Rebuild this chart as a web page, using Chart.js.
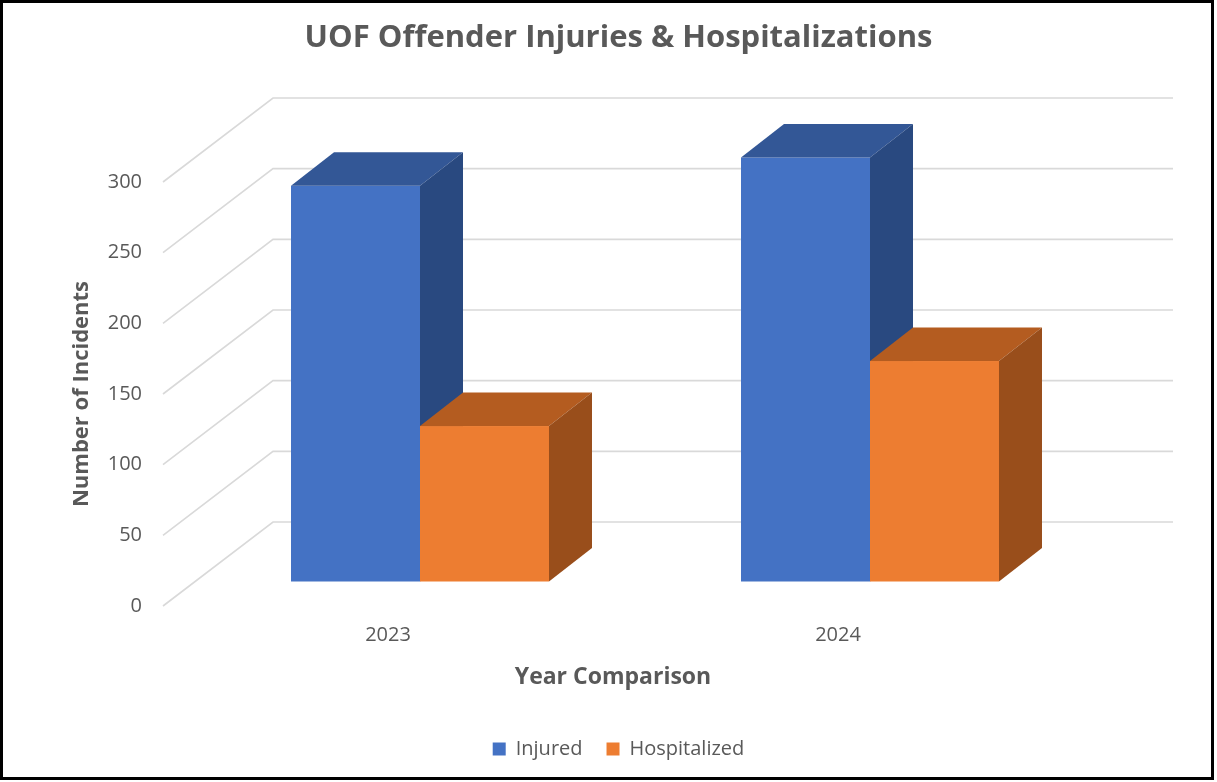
<!DOCTYPE html>
<html>
<head>
<meta charset="utf-8">
<title>UOF Offender Injuries &amp; Hospitalizations</title>
<script src="https://cdn.jsdelivr.net/npm/chart.js@4.4.1/dist/chart.umd.min.js"></script>
<style>
  html, body { margin: 0; padding: 0; background: #fff; }
  #wrap { width: 1217px; height: 782px; }
</style>
</head>
<body>
<div id="wrap"><canvas id="uofChart" width="1217" height="782"></canvas></div>
<script>
  // data
  const years = ["2023", "2024"];
  const injured = [280, 300];
  const hospitalized = [110, 156];
  const yTicks = [0, 50, 100, 150, 200, 250, 300];

  // colours: front / top / side faces
  const blue = { front: "#4472C4", top: "#335796", side: "#294980" };
  const orange = { front: "#ED7D31", top: "#B45C20", side: "#994E1B" };
  const faces = [blue, orange];

  // fake 3d depth (pixels)
  const floorDX = 110, floorDY = -84;     // front edge of floor -> back wall
  const barOffX = 32, barOffY = -24.5;    // front edge of floor -> front of bars
  const barDX = 43, barDY = -33.5;        // bar depth

  const gray = "#595959";
  const font = "'Open Sans', 'Noto Sans', sans-serif";

  const bars3d = {
    id: "bars3d",
    beforeDatasetsDraw(chart) {
      // back wall + left side wall grid lines
      const ctx = chart.ctx;
      const area = chart.chartArea;
      const yScale = chart.scales.y;
      ctx.save();
      ctx.strokeStyle = "#d9d9d9";
      ctx.lineWidth = 1.6;
      yScale.ticks.forEach((t) => {
        const yf = yScale.getPixelForValue(t.value);
        const yb = yf + floorDY;
        ctx.beginPath();
        ctx.moveTo(area.left, yf);
        ctx.lineTo(area.left + floorDX, yb);
        ctx.lineTo(area.right + floorDX, yb);
        ctx.stroke();
      });
      ctx.restore();
    },
    beforeDatasetDraw() {
      // bars are drawn below, as boxes
      return false;
    },
    afterDatasetsDraw(chart) {
      const ctx = chart.ctx;
      ctx.save();
      for (let i = 0; i < years.length; i++) {
        chart.data.datasets.forEach((ds, d) => {
          const el = chart.getDatasetMeta(d).data[i];
          const c = faces[d];
          const L = el.x - el.width / 2 + barOffX;
          const R = el.x + el.width / 2 + barOffX;
          const T = el.y + barOffY;
          const B = el.base + barOffY;
          // front
          ctx.fillStyle = c.front;
          ctx.fillRect(L, T, R - L, B - T);
          // top
          ctx.fillStyle = c.top;
          ctx.beginPath();
          ctx.moveTo(L, T);
          ctx.lineTo(R, T);
          ctx.lineTo(R + barDX, T + barDY);
          ctx.lineTo(L + barDX, T + barDY);
          ctx.closePath();
          ctx.fill();
          // side
          ctx.fillStyle = c.side;
          ctx.beginPath();
          ctx.moveTo(R, T);
          ctx.lineTo(R + barDX, T + barDY);
          ctx.lineTo(R + barDX, B + barDY);
          ctx.lineTo(R, B);
          ctx.closePath();
          ctx.fill();
        });
      }
      ctx.restore();
    },
    afterDraw(chart) {
      // black frame round the chart
      const ctx = chart.ctx;
      ctx.save();
      ctx.strokeStyle = "#000";
      ctx.lineWidth = 3;
      ctx.strokeRect(1.5, 1.5, 1211, 777);
      ctx.restore();
    },
  };

  const ctx = document.getElementById("uofChart").getContext("2d");
  new Chart(ctx, {
    type: "bar",
    data: {
      labels: years,
      datasets: [
        { label: "Injured", data: injured, backgroundColor: blue.front },
        { label: "Hospitalized", data: hospitalized, backgroundColor: orange.front },
      ],
    },
    options: {
      responsive: false,
      animation: false,
      categoryPercentage: 0.5733,
      barPercentage: 1,
      layout: { padding: { left: 20, right: 0, top: 0, bottom: 13 } },
      plugins: {
        tooltip: { enabled: false },
        title: {
          display: true,
          text: "UOF Offender Injuries & Hospitalizations",
          color: gray,
          font: { family: font, size: 31, weight: "bold" },
          padding: { top: 19.4, bottom: 125.4 },
        },
        legend: {
          position: "bottom",
          labels: {
            color: gray,
            font: { family: font, size: 20 },
            boxWidth: 13,
            boxHeight: 13,
            padding: 24,
          },
        },
      },
      scales: {
        x: {
          grid: { display: false, drawTicks: false },
          border: { display: false },
          ticks: { color: gray, font: { family: font, size: 20 }, padding: 17 },
          title: {
            display: true,
            text: "Year Comparison",
            color: gray,
            font: { family: font, size: 23, weight: "bold" },
            padding: { top: 0, bottom: 24 },
          },
          afterFit: (scale) => { scale.height = 109; },
        },
        y: {
          min: 0,
          max: 300,
          grid: { display: false, drawTicks: false },
          border: { display: false },
          afterBuildTicks: (scale) => { scale.ticks = yTicks.map((v) => ({ value: v })); },
          ticks: { color: gray, font: { family: font, size: 20 }, padding: 21 },
          title: {
            display: true,
            text: "Number of Incidents",
            color: gray,
            font: { family: font, size: 22, weight: "bold" },
            padding: { top: 49, bottom: 0 },
          },
          afterFit: (scale) => { scale.width = 143; },
        },
        // empty axis, only keeps room on the right for the back wall
        yRight: {
          position: "right",
          display: true,
          grid: { display: false, drawTicks: false },
          border: { display: false },
          ticks: { display: false },
          afterFit: (scale) => { scale.width = 154; },
        },
      },
    },
    plugins: [bars3d],
  });
</script>
</body>
</html>
